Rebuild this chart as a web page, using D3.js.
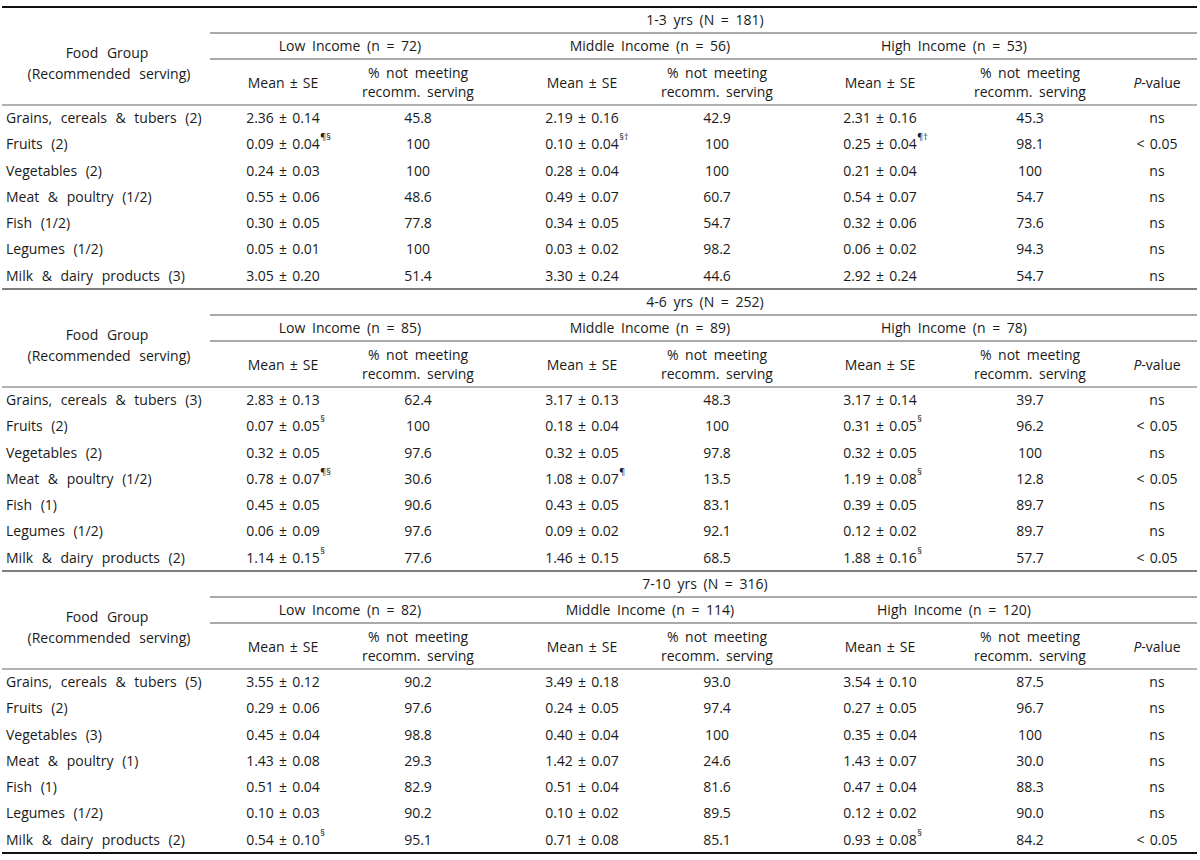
<!DOCTYPE html>
<html><head><meta charset="utf-8">
<script src="https://cdn.jsdelivr.net/npm/d3@7"></script>
<style>
body{margin:0;background:#fff}
text{font-family:"Open Sans",sans-serif;font-size:14px;fill:#1a1a1a;word-spacing:3px}
text.num{word-spacing:1.5px}
text.lab{word-spacing:5px}
</style></head>
<body><svg id="c" width="1200" height="860"></svg>
<script>
// ---------- DATA ----------
const ageGroups = ["1-3 yrs  (N = 181)", "4-6 yrs  (N = 252)", "7-10 yrs  (N = 316)"];
const incomeHeaders = [
  ["Low Income  (n = 72)", "Middle Income  (n = 56)", "High Income  (n = 53)"],
  ["Low Income  (n = 85)", "Middle Income  (n = 89)", "High Income  (n = 78)"],
  ["Low Income  (n = 82)", "Middle Income  (n = 114)", "High Income  (n = 120)"]
];
const foods13 = ["Grains, cereals & tubers (2)", "Fruits (2)", "Vegetables (2)", "Meat & poultry (1/2)", "Fish (1/2)", "Legumes (1/2)", "Milk & dairy products (3)"];
const foods46 = ["Grains, cereals & tubers (3)", "Fruits (2)", "Vegetables (2)", "Meat & poultry (1/2)", "Fish (1)", "Legumes (1/2)", "Milk & dairy products (2)"];
const foods710 = ["Grains, cereals & tubers (5)", "Fruits (2)", "Vegetables (3)", "Meat & poultry (1)", "Fish (1)", "Legumes (1/2)", "Milk & dairy products (2)"];

// 1-3 yrs
const low13Mean = ["2.36 ± 0.14", "0.09 ± 0.04", "0.24 ± 0.03", "0.55 ± 0.06", "0.30 ± 0.05", "0.05 ± 0.01", "3.05 ± 0.20"];
const low13Sup  = ["", "¶§", "", "", "", "", ""];
const low13Pct  = ["45.8", "100", "100", "48.6", "77.8", "100", "51.4"];
const mid13Mean = ["2.19 ± 0.16", "0.10 ± 0.04", "0.28 ± 0.04", "0.49 ± 0.07", "0.34 ± 0.05", "0.03 ± 0.02", "3.30 ± 0.24"];
const mid13Sup  = ["", "§†", "", "", "", "", ""];
const mid13Pct  = ["42.9", "100", "100", "60.7", "54.7", "98.2", "44.6"];
const high13Mean = ["2.31 ± 0.16", "0.25 ± 0.04", "0.21 ± 0.04", "0.54 ± 0.07", "0.32 ± 0.06", "0.06 ± 0.02", "2.92 ± 0.24"];
const high13Sup  = ["", "¶†", "", "", "", "", ""];
const high13Pct  = ["45.3", "98.1", "100", "54.7", "73.6", "94.3", "54.7"];
const p13 = ["ns", "< 0.05", "ns", "ns", "ns", "ns", "ns"];

// 4-6 yrs
const low46Mean = ["2.83 ± 0.13", "0.07 ± 0.05", "0.32 ± 0.05", "0.78 ± 0.07", "0.45 ± 0.05", "0.06 ± 0.09", "1.14 ± 0.15"];
const low46Sup  = ["", "§", "", "¶§", "", "", "§"];
const low46Pct  = ["62.4", "100", "97.6", "30.6", "90.6", "97.6", "77.6"];
const mid46Mean = ["3.17 ± 0.13", "0.18 ± 0.04", "0.32 ± 0.05", "1.08 ± 0.07", "0.43 ± 0.05", "0.09 ± 0.02", "1.46 ± 0.15"];
const mid46Sup  = ["", "", "", "¶", "", "", ""];
const mid46Pct  = ["48.3", "100", "97.8", "13.5", "83.1", "92.1", "68.5"];
const high46Mean = ["3.17 ± 0.14", "0.31 ± 0.05", "0.32 ± 0.05", "1.19 ± 0.08", "0.39 ± 0.05", "0.12 ± 0.02", "1.88 ± 0.16"];
const high46Sup  = ["", "§", "", "§", "", "", "§"];
const high46Pct  = ["39.7", "96.2", "100", "12.8", "89.7", "89.7", "57.7"];
const p46 = ["ns", "< 0.05", "ns", "< 0.05", "ns", "ns", "< 0.05"];

// 7-10 yrs
const low710Mean = ["3.55 ± 0.12", "0.29 ± 0.06", "0.45 ± 0.04", "1.43 ± 0.08", "0.51 ± 0.04", "0.10 ± 0.03", "0.54 ± 0.10"];
const low710Sup  = ["", "", "", "", "", "", "§"];
const low710Pct  = ["90.2", "97.6", "98.8", "29.3", "82.9", "90.2", "95.1"];
const mid710Mean = ["3.49 ± 0.18", "0.24 ± 0.05", "0.40 ± 0.04", "1.42 ± 0.07", "0.51 ± 0.04", "0.10 ± 0.02", "0.71 ± 0.08"];
const mid710Sup  = ["", "", "", "", "", "", ""];
const mid710Pct  = ["93.0", "97.4", "100", "24.6", "81.6", "89.5", "85.1"];
const high710Mean = ["3.54 ± 0.10", "0.27 ± 0.05", "0.35 ± 0.04", "1.43 ± 0.07", "0.47 ± 0.04", "0.12 ± 0.02", "0.93 ± 0.08"];
const high710Sup  = ["", "", "", "", "", "", "§"];
const high710Pct  = ["87.5", "96.7", "100", "30.0", "88.3", "90.0", "84.2"];
const p710 = ["ns", "ns", "ns", "ns", "ns", "ns", "< 0.05"];

// ---------- BUILD ----------
const sections = [
  {age: ageGroups[0], inc: incomeHeaders[0], foods: foods13, p: p13,
   groups: [[low13Mean, low13Sup, low13Pct], [mid13Mean, mid13Sup, mid13Pct], [high13Mean, high13Sup, high13Pct]]},
  {age: ageGroups[1], inc: incomeHeaders[1], foods: foods46, p: p46,
   groups: [[low46Mean, low46Sup, low46Pct], [mid46Mean, mid46Sup, mid46Pct], [high46Mean, high46Sup, high46Pct]]},
  {age: ageGroups[2], inc: incomeHeaders[2], foods: foods710, p: p710,
   groups: [[low710Mean, low710Sup, low710Pct], [mid710Mean, mid710Sup, mid710Pct], [high710Mean, high710Sup, high710Pct]]}
];

const svg = d3.select("#c");
const X0 = 2, X1 = 1197, XH = 210;
const meanX = [283, 582, 880], pctX = [418, 717, 1030], incX = [350, 650, 954], pX = 1157, labelX = 6;
const secScale = d3.scaleBand().domain(d3.range(3)).range([7, 853]);

function hline(y, x0, x1, color, w) {
  svg.append("line").attr("x1", x0).attr("x2", x1).attr("y1", y).attr("y2", y)
    .attr("stroke", color).attr("stroke-width", w);
}
function txt(x, y, s, anchor, cls) {
  return svg.append("text").attr("x", x).attr("y", y).attr("dy", "0.35em")
    .attr("class", cls || null)
    .attr("text-anchor", anchor || "middle").text(s);
}

hline(7, X0, X1, "#111", 2);

sections.forEach((sec, si) => {
  const T = secScale(si);
  const H = secScale.bandwidth();
  hline(T + 26, XH, X1, "#555", 1);
  hline(T + 52, XH, X1, "#555", 1);
  hline(T + 98, X0, X1, "#999", 1.5);
  if (si < sections.length - 1) hline(T + H, X0, X1, "#555", 1.5);
  else hline(T + H, X0, X1, "#111", 2);

  txt(705, T + 13, sec.age);
  sec.inc.forEach((s, k) => txt(incX[k], T + 39, s));
  txt(107, T + 46, "Food Group", "middle", "lab");
  txt(109, T + 67, "(Recommended serving)", "middle", "lab");
  for (let k = 0; k < 3; k++) {
    txt(meanX[k], T + 76, "Mean ± SE", "middle", "num");
    txt(pctX[k], T + 66, "% not meeting");
    txt(pctX[k], T + 85, "recomm. serving");
  }
  const pt = txt(pX, T + 76, "");
  pt.append("tspan").attr("font-style", "italic").text("P");
  pt.append("tspan").text("-value");

  const y = d3.scaleBand().domain(d3.range(sec.foods.length)).range([T + 98, T + H]);
  sec.foods.forEach((f, i) => {
    const cy = y(i) + y.bandwidth() / 2;
    txt(labelX, cy, f, "start", "lab");
    sec.groups.forEach((g, k) => {
      const t = txt(meanX[k], cy, g[0][i], "middle", "num");
      if (g[1][i]) {
        const len = t.node().getComputedTextLength();
        svg.append("text").attr("x", meanX[k] + len / 2 + 0.5).attr("y", cy - 4)
          .attr("text-anchor", "start").style("font-size", "9px").text(g[1][i]);
      }
      txt(pctX[k], cy, g[2][i], "middle", "num");
    });
    txt(pX, cy, sec.p[i], "middle", "num");
  });
});
</script></body></html>
